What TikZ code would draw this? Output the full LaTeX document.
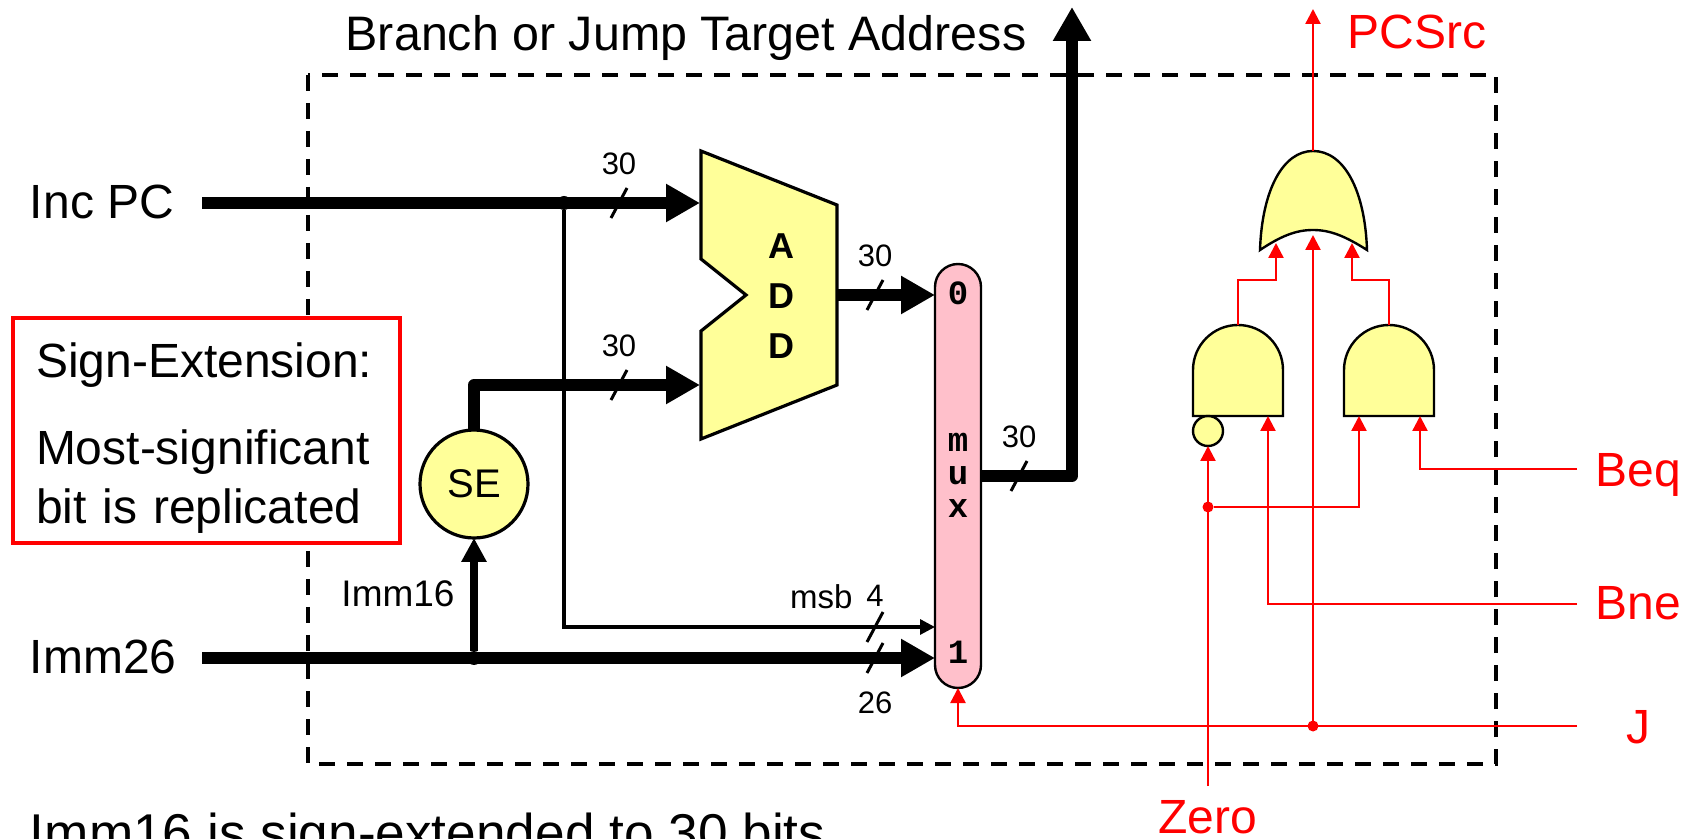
\documentclass[tikz,border=0pt]{standalone}
\usepackage{fontspec}
\setmainfont{Liberation Sans}
\setmonofont{Liberation Mono}
\usetikzlibrary{positioning, arrows.meta}
\definecolor{gateyellow}{HTML}{FFFF99}
\definecolor{muxpink}{HTML}{FFC0CB}

\begin{document}
\begin{tikzpicture}[x=0.5pt, y=-0.5pt, every node/.style={inner sep=0pt, outer sep=0pt},
    bigtext/.style={font=\fontsize{24}{29.5}\selectfont},
    redtext/.style={bigtext, text=red},
    numtext/.style={font=\fontsize{15.5}{18}\selectfont},
    bus/.style={line width=6pt, line join=round, -{Triangle[length=17pt, width=18pt]}},
    midbus/.style={line width=4pt, -{Triangle[length=12pt, width=12pt]}},
    thinbus/.style={line width=1.6pt, -{Triangle[length=7.5pt, width=7.5pt]}},
    ctrl/.style={red, line width=1.2pt, -{Triangle[length=7.5pt, width=7.5pt]}},
    gate/.style={draw=black, line width=1.2pt, fill=gateyellow},
    tickmark/.style={line width=1.5pt},
    dot/.style={circle, fill=black, minimum size=7pt},
    reddot/.style={circle, fill=red, minimum size=5.5pt}]
  \useasboundingbox (0,0) rectangle (1688,839);

  \draw[line width=1.9pt, dash pattern=on 8pt off 6pt] (308,75) rectangle (1496,764);

  \node[font=\fontsize{24.2}{29.5}\selectfont] (title) at (686,38) {Branch or Jump Target Address};
  \node[bigtext, anchor=west] (incpc) at (30,202) {Inc PC};
  \node[bigtext, anchor=west] (imm26) at (30,657) {Imm26};
  \node[anchor=base west, font=\fontsize{26.6}{30}\selectfont] (note) at (30,851) {Imm16 is sign-extended to 30 bits};
  \node[font=\fontsize{18.5}{22}\selectfont] (imm16) at (398,594) {Imm16};

  % adder and mux
  \draw[gate, line width=1.6pt, line join=miter] (701,151) -- (837,205) -- (837,385) -- (701,439) -- (701,331)
    -- (746,295) -- (701,259) -- cycle;
  \node[font=\fontsize{18}{25}\selectfont\bfseries, align=center] (add) at (781,296) {A\\D\\D};
  \node[draw, line width=1.2pt, fill=muxpink, rounded corners=11.5pt, minimum width=23pt, minimum height=212pt] (mux) at (958,476) {};
  \node[font=\fontsize{17}{20}\ttfamily\bfseries] (mux0) at (958,293) {0};
  \node[font=\fontsize{17}{20}\ttfamily\bfseries] (mux1) at (958,652) {1};
  \node[font=\fontsize{17}{16.5}\ttfamily\bfseries, align=center] (muxtext) at (958,475) {m\\u\\x};
  \node[gate, line width=1.6pt, circle, minimum size=54pt, font=\fontsize{20}{24}\selectfont] (se) at (474,484) {SE};

  \coordinate (incpcin) at (202,203); \coordinate (immin) at (202,658);
  \coordinate (adda) at (700,203); \coordinate (addb) at (700,385);
  \coordinate (addout) at (837,295); \coordinate (mux0in) at (mux.west |- addout);
  \coordinate (msbin) at (935,627); \coordinate (mux1in) at (935,658);
  \coordinate (muxout) at (981,476); \coordinate (muxcorner) at (1072,476);
  \coordinate (target) at (1072,7);
  \node[dot] (jinc) at (564,203) {}; \node[dot] (jimm) at (474,658) {};

  \draw[bus] (incpcin) -- (adda);
  \draw[bus] (se.north) |- (addb);
  \draw[bus] (addout) -- (mux0in);
  \draw[bus] (immin) -- (mux1in);
  \draw[midbus] (jimm) -- (se.south);
  \draw[thinbus] (jinc) |- (msbin);
  \draw[bus] (muxout) -- (muxcorner) -- (target);

  \coordinate (tinc) at (619,203); \coordinate (tadd) at (619,385);
  \coordinate (tout) at (875,295); \coordinate (tmux) at (1019,476);
  \coordinate (tmsb) at (875,627); \coordinate (timm) at (875,658);
  \foreach \t in {tinc, tadd, tout, tmux, tmsb, timm}
    \draw[tickmark] ([shift={(-8,15)}]\t) -- ([shift={(8,-15)}]\t);

  \node[numtext, above=14pt of tinc] (n30a) {30}; \node[numtext, above=14pt of tadd] (n30b) {30};
  \node[numtext, above=14pt of tout] (n30c) {30}; \node[numtext, above=14pt of tmux] (n30d) {30};
  \node[numtext, above=10pt of tmsb] (n4) {4};
  \node[font=\fontsize{16.5}{18}\selectfont, left=7pt of n4] (nmsb) {msb};
  \node[numtext, below=17pt of timm] (n26) {26};

  % sign extension remark
  \node[draw=red, line width=1.7pt, fill=white, bigtext, align=left, text width=170.5pt, inner xsep=11.5pt, minimum height=112.5pt] (signbox) at (206.5,430.5)
    {\rule{0pt}{25pt}Sign-Extension:\\[14pt]Most-significant\\bit is replicated};

  % gates
  \draw[gate] (1193,416) -- (1193,370) arc[start angle=180, end angle=0, radius=22.5pt] -- (1283,416) -- cycle;
  \draw[gate] (1344,416) -- (1344,370) arc[start angle=180, end angle=0, radius=22.5pt] -- (1434,416) -- cycle;
  \draw[gate] (1260,250) .. controls (1262,190) and (1283,151) .. (1313,151)
    .. controls (1344,151) and (1365,190) .. (1367,250)
    .. controls (1345,236) and (1330,230) .. (1313,230)
    .. controls (1296,230) and (1281,236) .. (1260,250) -- cycle;
  \node[gate, circle, minimum size=15pt] (bubble) at (1208,431) {};

  \coordinate (orout) at (1313,151); \coordinate (orl) at (1276,243); \coordinate (orr) at (1352,243);
  \coordinate (ormid) at (1313,235); \coordinate (andlout) at (1238,325); \coordinate (androut) at (1389,325);
  \coordinate (andlb) at (1268,416); \coordinate (andra) at (1359,416); \coordinate (andrb) at (1420,416);
  \coordinate (pcsrcend) at (1313,9); \coordinate (zeroend) at (1208,786);
  \coordinate (beqend) at (1577,469); \coordinate (bneend) at (1577,604); \coordinate (jend) at (1577,726);
  \node[reddot] (jzero) at (1208,507) {}; \node[reddot] (jj) at (1313,726) {};

  \draw[ctrl] (orout) -- (pcsrcend);
  \draw[ctrl] (andlout) |- (1276,280) -- (orl);
  \draw[ctrl] (androut) |- (1352,280) -- (orr);
  \draw[ctrl] (jj) -- (ormid);
  \draw[ctrl] (jend) -| (mux.south);
  \draw[ctrl] (zeroend) -- (bubble.south);
  \draw[ctrl] (jzero) -| (andra);
  \draw[ctrl] (bneend) -| (andlb);
  \draw[ctrl] (beqend) -| (andrb);

  \node[redtext] (pcsrc) at (1417,32) {PCSrc};
  \node[redtext] (beq) at (1638,475) {Beq};
  \node[redtext] (bne) at (1638,603) {Bne};
  \node[redtext] (jlabel) at (1638,727) {J};
  \node[redtext] (zero) at (1208,817) {Zero};
\end{tikzpicture}
\end{document}
